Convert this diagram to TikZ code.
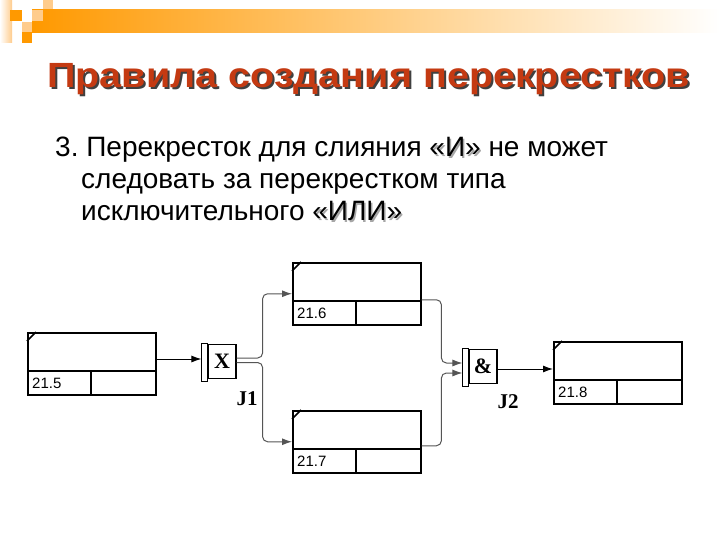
\documentclass[tikz,border=0pt]{standalone}
\usepackage{fontspec}
\setmainfont{Liberation Sans}
\newfontfamily\tms{Liberation Serif}
\usetikzlibrary{arrows.meta,calc}
\definecolor{ttl}{RGB}{196,58,18}
\definecolor{barc}{RGB}{255,153,0}
\definecolor{lite}{RGB}{255,204,140}
\definecolor{conng}{RGB}{85,85,85}
\frenchspacing
\newcommand\shd[1]{\leavevmode\rlap{\kern1.5pt\raisebox{-1.5pt}{\color{black!35}#1}}#1}
\newcommand\ibox[4]{%
  \node[blk] (#1) at (#2,#3) {};
  \draw[line width=1.5pt] (#2,#3+39) -- (#2+128,#3+39);
  \draw[line width=1.5pt] (#2+64,#3+39) -- (#2+64,#3+62);
  \draw[line width=1.6pt] (#2,#3+9) -- (#2+9,#3);
  \node[lbl] at (#2+5,#3+56) {#4};}
\begin{document}
\begin{tikzpicture}[x=1pt,y=-1pt,
  blk/.style={draw, line width=1.5pt, minimum width=128pt, minimum height=62pt, inner sep=0pt, anchor=north west},
  jbox/.style={draw, line width=1.2pt, minimum width=28pt, minimum height=34pt, inner sep=0pt},
  conn/.style={line width=1pt, -{Latex[length=10pt,width=7pt]}},
  lbl/.style={font=\fontsize{15}{15}\selectfont, anchor=base west, inner sep=0pt},
  jl/.style={font=\tms\bfseries\fontsize{21}{21}\selectfont, inner sep=0pt},
  body/.style={font=\fontsize{28}{28}\selectfont, anchor=base west, inner sep=0pt}]
\useasboundingbox (0,0) rectangle (720,540);
\fill[white] (0,0) rectangle (720,540);
% top decoration
\shade[left color=barc, right color=white] (32,10) rectangle (720,33);
\shade[left color=white, right color=lite] (0,0) rectangle (12,43);
\fill[barc] (10,10) rectangle (22,21);
\fill[lite] (32,10) rectangle (43,21);
\fill[lite] (43,0) rectangle (53,9);
\fill[lite] (22,22) rectangle (32,32);
\fill[barc] (22,32) rectangle (32,43);
% title
\node[anchor=base west, inner sep=0pt, font=\bfseries\fontsize{35}{35}\selectfont, text=black!75] at (49,90) {\scalebox{1.13}[1]{Правила создания перекрестков}};
\node[anchor=base west, inner sep=0pt, font=\bfseries\fontsize{35}{35}\selectfont, text=ttl] (title) at (47,88) {\scalebox{1.13}[1]{Правила создания перекрестков}};
% body
\node[body] (l1) at (55,157) {3. Перекресток для слияния \shd{«И»} не может};
\node[body] (l2) at (81,189) {следовать за перекрестком типа};
\node[body] (l3) at (81,221) {исключительного \shd{«ИЛИ»}};
% boxes
\ibox{b5}{27}{332}{21.5}
\ibox{b6}{292}{262}{21.6}
\ibox{b7}{292}{410}{21.7}
\ibox{b8}{553}{341}{21.8}
% junctions
\node[jbox] (jx) at (222,361.5) {\tms\bfseries\fontsize{22}{22}\selectfont X};
\draw[line width=1pt] ([xshift=-6pt]jx.north west) rectangle ([yshift=-2pt]jx.south west);
\node[jbox] (ja) at (483,366.5) {\tms\bfseries\fontsize{22}{22}\selectfont \&};
\draw[line width=1pt] ([xshift=-6pt]ja.north west) rectangle ([yshift=-2pt]ja.south west);
\node[jl] (j1) at (247,399) {J1};
\node[jl] (j2) at (508,402) {J2};
% connectors
\coordinate (jxin) at ([xshift=-6pt,yshift=2.5pt]jx.west);
\draw[conn] (b5.east |- jxin) -- (jxin);
\draw[conn, draw=conng, rounded corners=5pt] ([yshift=3.5pt]jx.east) -- ++(26,0) |- (b6.west);
\draw[conn, draw=conng, rounded corners=5pt] ([yshift=-1pt]jx.east) -- ++(26,0) |- (b7.west);
\coordinate (ain1) at ([xshift=-6pt,yshift=3.5pt]ja.west);
\coordinate (ain2) at ([xshift=-6pt,yshift=-6.5pt]ja.west);
\draw[conn, draw=conng, rounded corners=5pt] ([yshift=-6pt]b6.east) -| ($(ain1)+(-21,0)$) -- (ain1);
\draw[conn, draw=conng, rounded corners=5pt] ([yshift=-4pt]b7.east) -| ($(ain2)+(-21,0)$) -- (ain2);
\coordinate (jaout) at ([yshift=-2.5pt]ja.east);
\draw[conn] (jaout) -- (b8.west |- jaout);
\end{tikzpicture}
\end{document}
